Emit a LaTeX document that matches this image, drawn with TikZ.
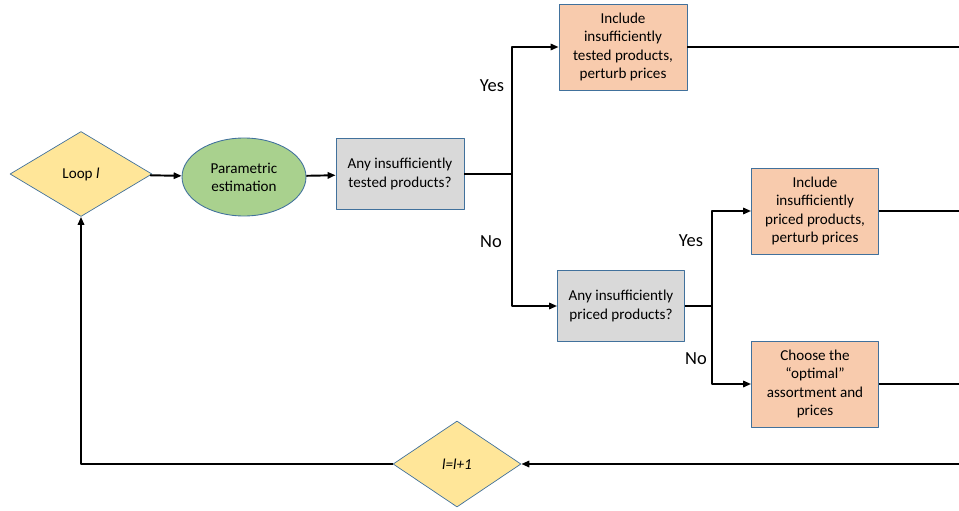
\documentclass[tikz,border=0pt]{standalone}
\usepackage{fontspec}
\setmainfont{Carlito}
\usetikzlibrary{arrows.meta,shapes.geometric,positioning}
\definecolor{edgeblue}{HTML}{41719C}
\definecolor{decyellow}{HTML}{FFE699}
\definecolor{estgreen}{HTML}{A9D18E}
\definecolor{askgray}{HTML}{D9D9D9}
\definecolor{actorange}{HTML}{F8CBAD}
\tikzset{
  txt/.style={font=\fontsize{8.6}{10.3}\selectfont, align=center},
  decision/.style={diamond, draw=edgeblue, line width=0.4pt, fill=decyellow, inner sep=0pt, aspect=1.6, txt},
  ask/.style={rectangle, draw=edgeblue, line width=0.5pt, fill=askgray, minimum width=2.56cm, minimum height=1.42cm, txt},
  act/.style={rectangle, draw=edgeblue, line width=0.5pt, fill=actorange, minimum width=2.56cm, minimum height=1.72cm, txt},
  flow/.style={line width=1.1pt, -{Triangle[length=4.5pt,width=3.6pt]}},
  wire/.style={line width=1.1pt},
  answer/.style={font=\fontsize{10.5}{12}\selectfont}
}
\begin{document}
\begin{tikzpicture}[x=0.02cm, y=-0.02cm, line join=round]
\useasboundingbox (0,0) rectangle (959,510);
\node[decision, minimum width=2.84cm, minimum height=1.7cm] (loop) at (81,174) {Loop \textit{l}};
\node[ellipse, draw=edgeblue, line width=0.5pt, fill=estgreen, minimum width=2.48cm, minimum height=1.56cm, txt] (est) at (244,177) {Parametric\\estimation};
\node[ask] (tested) at (400,174) {Any insufficiently\\tested products?};
\node[act] (inctest) at (623,47) {Include\\insufficiently\\tested products,\\perturb prices};
\node[ask, minimum width=2.54cm] (priced) at (621,306) {Any insufficiently\\priced products?};
\node[act, minimum width=2.54cm] (incprice) at (815,211) {Include\\insufficiently\\priced products,\\perturb prices};
\node[act, minimum width=2.54cm] (choose) at (815,384) {Choose the\\“optimal”\\assortment and\\prices};
\node[decision, minimum width=2.56cm, minimum height=1.72cm] (incr) at (457,464) {\textit{l=l+1}};
\node[answer] (yes1) at (492,86) {Yes};
\node[answer] (no1) at (491,242) {No};
\node[answer] (yes2) at (691,241) {Yes};
\node[answer] (no2) at (696,359) {No};
\coordinate (split1) at (512,174);
\coordinate (split2) at (712,306);
\coordinate (out1) at (959,47);
\coordinate (out2) at (959,211);
\coordinate (out3) at (959,384);
\coordinate (back) at (959,464);
\draw[flow] (loop) -- (est);
\draw[flow] (est) -- (tested);
\draw[wire] (tested) -- (split1);
\draw[flow] (split1) |- (inctest);
\draw[flow] (split1) |- (priced);
\draw[wire] (priced) -- (split2);
\draw[flow] (split2) |- (incprice);
\draw[flow] (split2) |- (choose);
\draw[wire] (inctest) -- (out1);
\draw[wire] (incprice) -- (out2);
\draw[wire] (choose) -- (out3);
\draw[flow] (back) -- (incr);
\draw[flow] (incr) -| (loop);
\end{tikzpicture}
\end{document}
